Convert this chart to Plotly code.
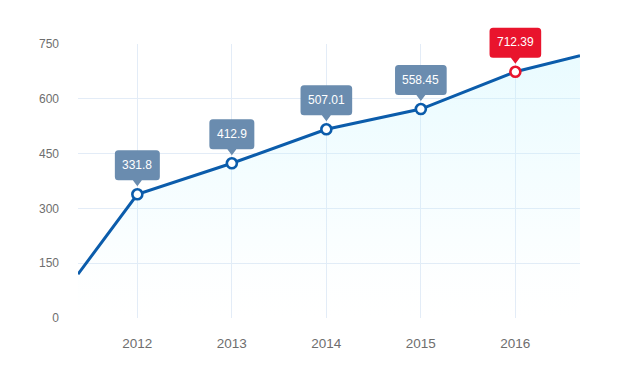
import plotly.graph_objects as go

years = [2012, 2013, 2014, 2015, 2016]
values = [338.6, 423.5, 516.5, 572.0, 674.0]
labels = ["331.8", "412.9", "507.01", "558.45", "712.39"]
# line continues past the first and last category to the plot edges
edge_x = [2011.372, 2016.684]
edge_y = [120.0, 718.0]
y_ticks = [0, 150, 300, 450, 600, 750]
y_range = [0, 750]

line_color = "#0b5cab"
box_color = "#6a8caf"
hi_color = "#e9142d"
hi_index = 4

line_x = [edge_x[0]] + years + [edge_x[1]]
line_y = [edge_y[0]] + values + [edge_y[1]]

fig = go.Figure()
fig.add_trace(go.Scatter(
    x=line_x, y=line_y, mode="lines",
    line=dict(color=line_color, width=3),
    fill="tozeroy",
    fillgradient=dict(type="vertical",
                      colorscale=[[0, "rgba(195,244,255,0)"], [0.15, "rgba(195,244,255,0.03)"],
                                  [1, "rgba(195,244,255,0.36)"]]),
    hoverinfo="skip", showlegend=False,
))
fig.add_trace(go.Scatter(
    x=years, y=values, mode="markers",
    marker=dict(size=10, color="white",
                line=dict(width=2.6, color=[hi_color if i == hi_index else line_color for i in range(len(years))])),
    showlegend=False,
))

def box_path(w, bottom=14, top=44, r=3.5, tri=4.5, tip=8):
    hw = w / 2
    return (f"M {-tri},{bottom} L 0,{tip} L {tri},{bottom} L {hw - r},{bottom} "
            f"Q {hw},{bottom} {hw},{bottom + r} L {hw},{top - r} Q {hw},{top} {hw - r},{top} "
            f"L {-hw + r},{top} Q {-hw},{top} {-hw},{top - r} L {-hw},{bottom + r} "
            f"Q {-hw},{bottom} {-hw + r},{bottom} Z")

shapes = []
annotations = []
for i, (x, v, t) in enumerate(zip(years, values, labels)):
    col = hi_color if i == hi_index else box_color
    w = 6.67 * sum(c.isdigit() for c in t) + 3.3 * t.count(".") + 15
    # anchor in paper fraction (derived from axis ranges) so boxes aren't clipped at the plot top
    px = (x - edge_x[0]) / (edge_x[1] - edge_x[0])
    py = (v - y_range[0]) / (y_range[1] - y_range[0])
    shapes.append(dict(type="path", xref="paper", yref="paper", xsizemode="pixel", ysizemode="pixel",
                       xanchor=px, yanchor=py, path=box_path(w), fillcolor=col,
                       line=dict(width=0), layer="above"))
    annotations.append(dict(x=x, y=v, xref="x", yref="y", text=t, showarrow=False,
                            yshift=29.5, font=dict(color="white", size=12,
                                                   family="Liberation Sans, Arial, sans-serif")))

fig.update_layout(
    width=612, height=368,
    margin=dict(l=70, r=40, t=36, b=58),
    paper_bgcolor="white", plot_bgcolor="white",
    shapes=shapes, annotations=annotations,
    font=dict(family="Liberation Sans, Arial, sans-serif", size=12, color="#666666"),
    xaxis=dict(range=[edge_x[0], edge_x[1]], tickvals=years, ticktext=[str(y) for y in years],
               showgrid=True, gridcolor="#e3ecf7", gridwidth=1, zeroline=False,
               showline=False, ticks="", ticklabelstandoff=15, tickfont=dict(size=13.5, color="#6e6e6e")),
    yaxis=dict(range=y_range, tickvals=y_ticks, showgrid=True, gridcolor="#e3ecf7", gridwidth=1,
               zeroline=False, showline=False, ticks="", ticklabelstandoff=18,
               tickfont=dict(size=12, color="#6e6e6e")),
)

fig.write_html("out.html")
